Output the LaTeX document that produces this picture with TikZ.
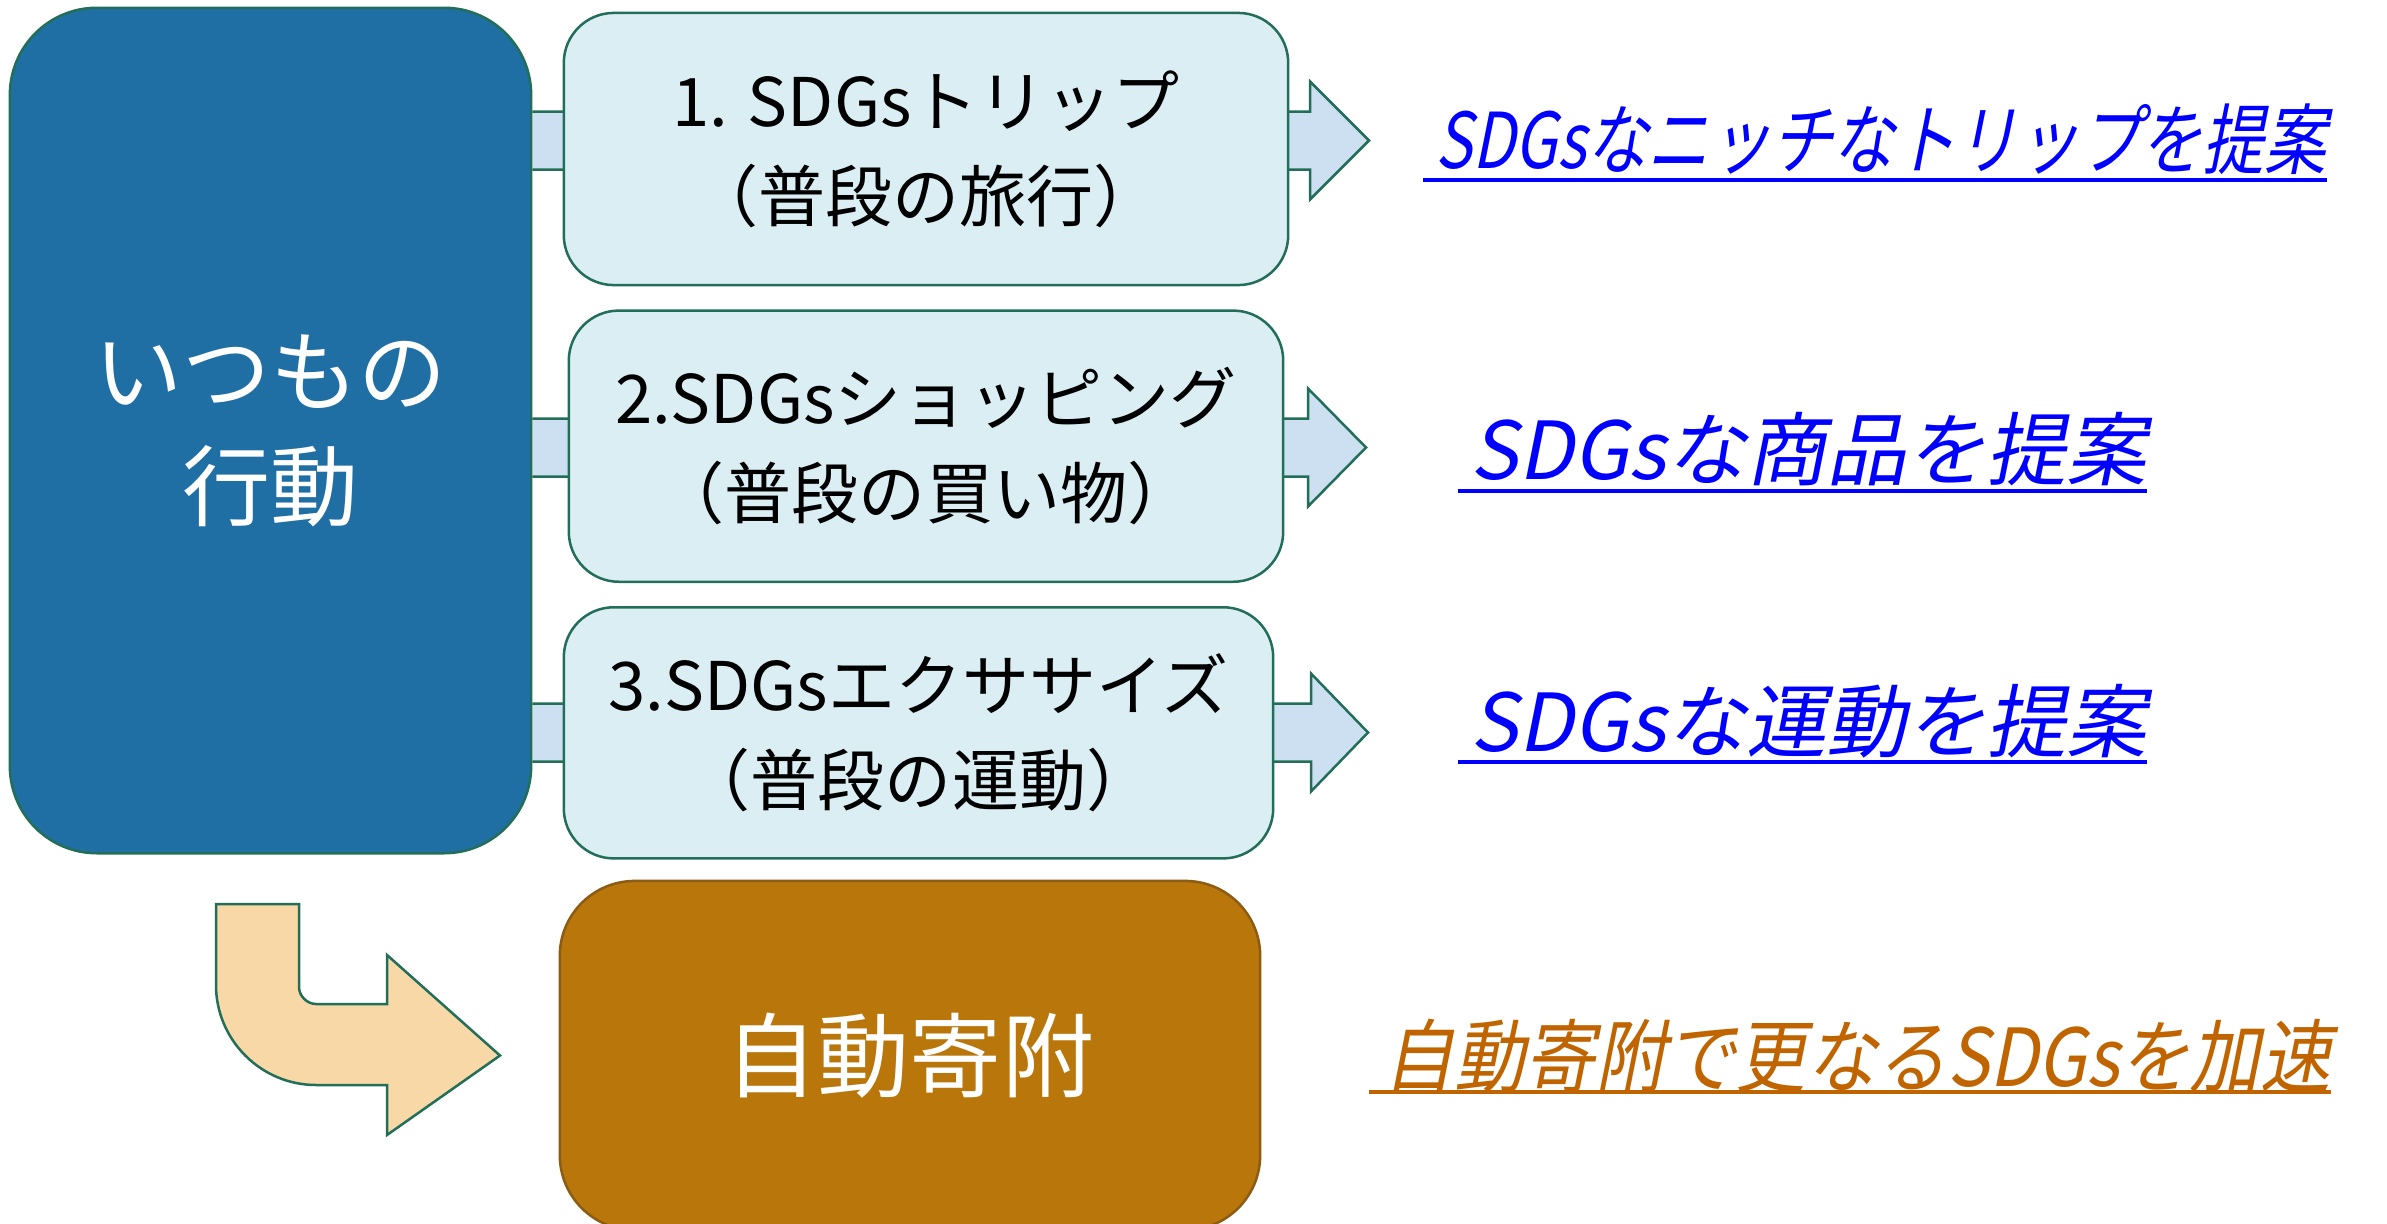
\documentclass[tikz,border=0pt]{standalone}
\usepackage{fontspec}
\setmainfont{Noto Sans CJK JP}
\newfontfamily\goalfont[FakeSlant=0.2]{Noto Sans CJK JP}
\newfontfamily\longgoalfont[FakeSlant=0.2,FakeStretch=0.88]{Noto Sans CJK JP}
\newfontfamily\tripgoalfont[FakeSlant=0.2,FakeStretch=0.8]{Noto Sans CJK JP}
\usepackage{xcolor}
\usepackage{tikz}
\usetikzlibrary{positioning,backgrounds}

\definecolor{actblue}{RGB}{31,111,165}
\definecolor{edgegreen}{RGB}{34,110,88}
\definecolor{planfill}{RGB}{218,238,243}
\definecolor{connfill}{RGB}{204,224,242}
\definecolor{bentfill}{RGB}{248,216,166}
\definecolor{donatefill}{RGB}{185,118,10}
\definecolor{donateedge}{RGB}{140,92,20}
\definecolor{goalblue}{RGB}{0,0,255}
\definecolor{goalorange}{RGB}{192,100,0}

\begin{document}
\begin{tikzpicture}[x=0.01cm, y=-0.01cm, node distance=0.23cm,
  actbox/.style={draw=edgegreen, fill=actblue, line width=0.025cm, rounded corners=0.87cm,
    text=white, align=center, font=\fontsize{0.88cm}{1.15cm}\selectfont},
  planbox/.style={draw=edgegreen, fill=planfill, line width=0.025cm, rounded corners=0.5cm,
    align=center, font=\fontsize{0.67cm}{0.95cm}\selectfont},
  donatebox/.style={draw=donateedge, fill=donatefill, line width=0.025cm, rounded corners=0.75cm,
    text=white, font=\fontsize{0.92cm}{0.92cm}\selectfont},
  goaltext/.style={text=goalblue, inner sep=0pt, anchor=base west,
    font=\goalfont\fontsize{0.8cm}{0.8cm}\selectfont},
  longgoal/.style={goaltext, font=\longgoalfont\fontsize{0.8cm}{0.8cm}\selectfont},
  tripgoal/.style={goaltext, font=\tripgoalfont\fontsize{0.77cm}{0.77cm}\selectfont},
  conn/.style={draw=edgegreen, fill=connfill, line width=0.025cm, line join=miter},
  bentarrow/.style={draw=edgegreen, fill=bentfill, line width=0.025cm},
  uline/.style={line width=0.035cm}]
  \useasboundingbox (0,0) rectangle (2387,1224);

  \node[actbox, minimum width=5.21cm, minimum height=8.45cm]           (act) at (270.5,430.5)
  {いつもの\\行動};
  \node[planbox, minimum width=7.24cm, minimum height=2.72cm]          (trip) at (926,149)
  {1. SDGsトリップ\\（普段の旅行）};
  \node[planbox, minimum width=7.14cm, minimum height=2.71cm, below=of trip] (shop)
  {2.SDGsショッピング\\（普段の買い物）};
  \node[planbox, minimum width=7.09cm, minimum height=2.51cm, below=of shop, xshift=-0.075cm] (exercise)
  {3.SDGsエクササイズ\\（普段の運動）};
  \node[donatebox, minimum width=7.0cm, minimum height=3.49cm, below=0.2cm of exercise, xshift=-0.085cm] (donate)
  {自動寄附};

  \node[tripgoal]                    (trip goal)     at (1435,168)  {SDGsなニッチなトリップを提案};
  \node[goaltext]                    (shop goal)     at (1470,479)  {SDGsな商品を提案};
  \node[goaltext]                    (exercise goal) at (1470,751)  {SDGsな運動を提案};
  \node[longgoal, text=goalorange]   (donate goal)   at (1383,1086) {自動寄附で更なるSDGsを加速};

  \draw[uline, goalblue]   ([shift={(-12,12)}]trip goal.base west) -- ([shift={(0,12)}]trip goal.base east);
  \draw[uline, goalblue]   ([shift={(-12,12)}]shop goal.base west) -- ([shift={(0,12)}]shop goal.base east);
  \draw[uline, goalblue]   ([shift={(-12,11)}]exercise goal.base west) -- ([shift={(0,11)}]exercise goal.base east);
  \draw[uline, goalorange] ([shift={(-14,6)}]donate goal.base west) -- ([shift={(0,6)}]donate goal.base east);

  \begin{scope}[on background layer]
    \draw[conn] (act.east |- 0,111.5) -- (1310,111.5) -- (1310,81.5) -- (1369,140.5)
      -- (1310,199.5) -- (1310,169.5) -- (act.east |- 0,169.5);
    \draw[conn] (act.east |- 0,418.5) -- (1308,418.5) -- (1308,388.5) -- (1366,447.5)
      -- (1308,506.5) -- (1308,476.5) -- (act.east |- 0,476.5);
    \draw[conn] (act.east |- 0,703.5) -- (1311,703.5) -- (1311,673.5) -- (1368,732.5)
      -- (1311,791.5) -- (1311,761.5) -- (act.east |- 0,761.5);
  \end{scope}

  % bent arrow from act down into donate
  \draw[bentarrow] (216,904) -- (299,904) -- (299,987) .. controls (299,996) and (307,1004) .. (316,1004)
    -- (387,1004) -- (387,955) -- (donate.west -| 500,0) -- (387,1135) -- (387,1085) -- (316,1085)
    .. controls (261,1085) and (216,1040) .. (216,985) -- cycle;
\end{tikzpicture}
\end{document}
